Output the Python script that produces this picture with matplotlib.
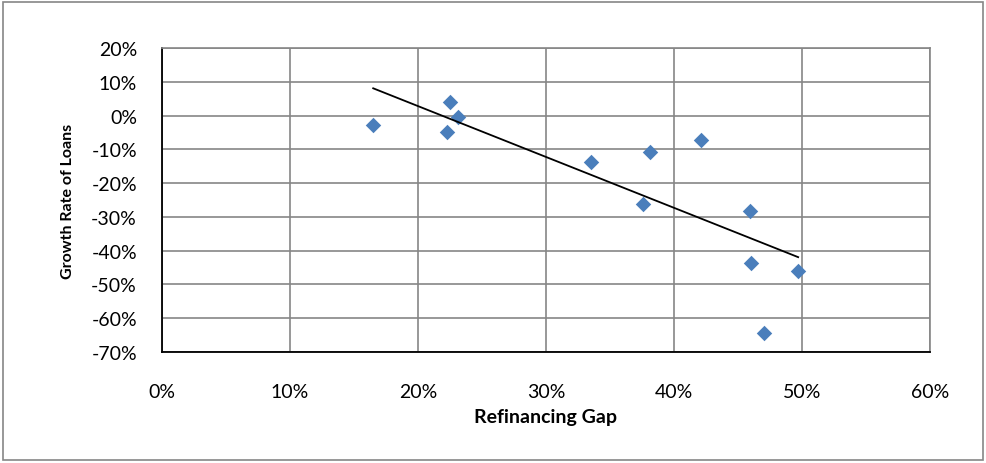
import matplotlib.pyplot as plt
import numpy as np
from matplotlib.patches import Rectangle

# Refinancing gap (%) vs growth rate of loans (%)
refi_gap = [16.5, 22.5, 23.1, 22.3, 33.5, 38.1, 37.6, 42.1, 45.9, 46.0, 49.7, 47.0]
loan_growth = [-2.8, 4.1, -0.5, -4.8, -13.8, -10.7, -26.1, -7.1, -28.2, -43.7, -45.9, -64.4]

x_ticks = [0, 10, 20, 30, 40, 50, 60]
y_ticks = [20, 10, 0, -10, -20, -30, -40, -50, -60, -70]

plt.rcParams["font.family"] = ["Lato", "DejaVu Sans"]

fig = plt.figure(figsize=(9.86, 4.64), dpi=100)
ax = fig.add_axes([162 / 986, 1 - 353 / 464, 768 / 986, 304 / 464])

# outer chart border
fig.patches.append(Rectangle((3 / 986, 3 / 464), 980 / 986, 458 / 464,
                             transform=fig.transFigure, fill=False,
                             edgecolor="#868686", linewidth=1.2))

ax.scatter(refi_gap, loan_growth, marker="D", s=62, color="#4A7EBB", zorder=3,
           linewidths=0)

# linear trend line
k, b = np.polyfit(refi_gap, loan_growth, 1)
xs = np.array([min(refi_gap), max(refi_gap)])
ax.plot(xs, k * xs + b, color="black", linewidth=1.3, zorder=4)

ax.set_xlim(0, 60)
ax.set_ylim(-70, 20)
ax.set_xticks(x_ticks)
ax.set_yticks(y_ticks)
ax.set_xticklabels([f"{t}%" for t in x_ticks])
ax.set_yticklabels([f"{t}%" for t in y_ticks])
ax.tick_params(length=0, labelsize=14)
ax.tick_params(axis="y", pad=18)
ax.tick_params(axis="x", pad=22)

ax.grid(True, color="#868686", linewidth=1.2)
ax.set_axisbelow(True)
for s in ["top", "right"]:
    ax.spines[s].set_color("#868686")
    ax.spines[s].set_linewidth(1.2)
for s in ["left", "bottom"]:
    ax.spines[s].set_color("black")
    ax.spines[s].set_linewidth(1.3)

ax.set_xlabel("Refinancing Gap", fontsize=14, fontweight="bold", labelpad=6)
ax.set_ylabel("Growth Rate of Loans", fontsize=11.5, fontweight="bold", labelpad=12)

fig.savefig("out.png", dpi=100)
